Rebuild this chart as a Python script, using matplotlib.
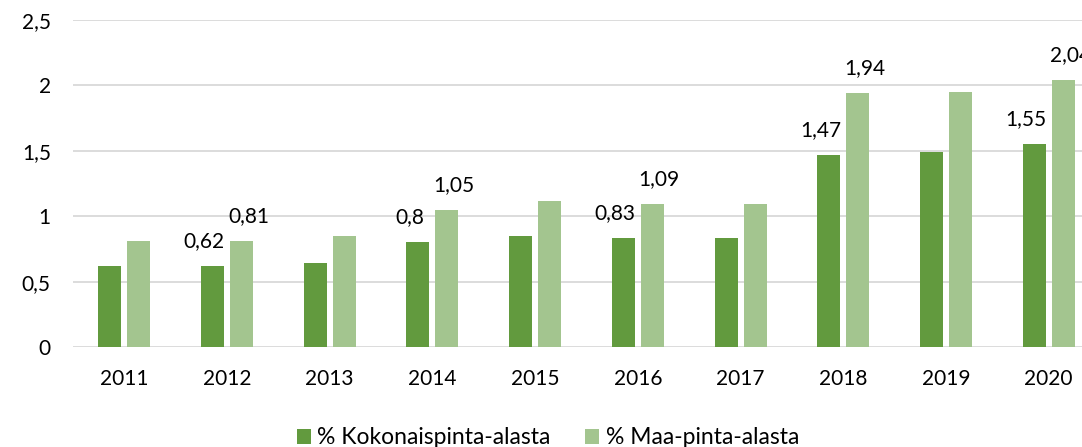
import matplotlib
matplotlib.use("Agg")
import matplotlib.pyplot as plt
import numpy as np

years = ["2011", "2012", "2013", "2014", "2015", "2016", "2017", "2018", "2019", "2020"]
kokonais = [0.62, 0.62, 0.64, 0.80, 0.85, 0.83, 0.83, 1.47, 1.49, 1.55]
maa = [0.81, 0.81, 0.85, 1.05, 1.12, 1.09, 1.09, 1.94, 1.95, 2.04]
kokonais_labels = {1: "0,62", 3: "0,8", 5: "0,83", 7: "1,47", 9: "1,55"}
maa_labels = {1: "0,81", 3: "1,05", 5: "1,09", 7: "1,94", 9: "2,04"}
yticks = [0, 0.5, 1, 1.5, 2, 2.5]
ytick_labels = ["0", "0,5", "1", "1,5", "2", "2,5"]

plt.rcParams['font.family'] = ['Lato', 'DejaVu Sans']

dark = "#629A3E"
light = "#A3C58F"
fs = 15

fig = plt.figure(figsize=(10.82, 4.47), dpi=100)
ax = fig.add_axes([73/1082, 100/447, 1027/1082, 327/447])

x = np.arange(len(years))
w = 0.224
off = 0.141
b1 = ax.bar(x - off, kokonais, w, color=dark, label="% Kokonaispinta-alasta", zorder=3)
b2 = ax.bar(x + off, maa, w, color=light, label="% Maa-pinta-alasta", zorder=3)

for i, t in kokonais_labels.items():
    ax.annotate(t, (x[i] - off, kokonais[i]), xytext=(-6, 18), textcoords="offset points",
                ha="center", va="center", fontsize=fs, color="#000000")
for i, t in maa_labels.items():
    ax.annotate(t, (x[i] + off, maa[i]), xytext=(5, 18), textcoords="offset points",
                ha="center", va="center", fontsize=fs, color="#000000")

ax.set_xlim(-0.5, len(years) - 0.5)
ax.set_ylim(0, 2.5)
ax.set_yticks(yticks)
ax.set_yticklabels(ytick_labels, fontsize=fs)
ax.set_xticks(x)
ax.set_xticklabels(years, fontsize=fs)
ax.tick_params(axis="y", length=0, pad=16)
ax.tick_params(axis="x", length=0, pad=16)
ax.yaxis.grid(True, color="#D9D9D9", linewidth=1.3, zorder=0)
ax.set_axisbelow(True)
for s in ax.spines.values():
    s.set_visible(False)

fig.legend(handles=[b1, b2], loc="center", bbox_to_anchor=(548/1082, 9/447), ncol=2,
           frameon=False, fontsize=16.5, handlelength=0.6, handleheight=0.6,
           handletextpad=0.3, columnspacing=1.5, borderpad=0)

fig.savefig("out.png", dpi=100)
